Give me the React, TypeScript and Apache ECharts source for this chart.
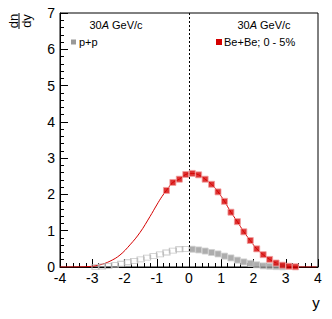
import React, { useEffect, useRef } from "react";
import * as echarts from "echarts";

// Be+Be 0-5% (measured points)
const beX = [-0.7, -0.5, -0.3, -0.1, 0.1, 0.3, 0.5, 0.7, 0.9, 1.1, 1.3, 1.5, 1.7, 1.9, 2.1, 2.3, 2.5, 2.7, 2.9, 3.1, 3.3];
const beY = [2.11, 2.33, 2.42, 2.55, 2.58, 2.54, 2.42, 2.28, 2.07, 1.81, 1.51, 1.25, 0.97, 0.73, 0.5, 0.34, 0.21, 0.11, 0.05, 0.02, 0.005];

// Be+Be fitted curve (left extension + tail)
const curveLeftX = [-4, -3.5, -3.07, -2.76, -2.45, -2.14, -1.83, -1.52, -1.21, -1.0, -0.84];
const curveLeftY = [0, 0.003, 0.015, 0.06, 0.16, 0.33, 0.61, 0.95, 1.39, 1.71, 1.94];
const curveTailX = [3.6, 3.95];
const curveTailY = [0.0, 0.0];

// p+p measured
const ppX = [0.1, 0.3, 0.5, 0.7, 0.9, 1.1, 1.3, 1.5, 1.7, 1.9, 2.1, 2.3, 2.5, 2.7, 2.9];
const ppY = [0.49, 0.47, 0.44, 0.4, 0.36, 0.3, 0.25, 0.19, 0.14, 0.1, 0.06, 0.03, 0.02, 0.01, 0.005];

// p+p reflected
const ppRefX = [-0.1, -0.3, -0.5, -0.7, -0.9, -1.1, -1.3, -1.5, -1.7, -1.9, -2.1, -2.3, -2.5, -2.7, -2.9];
const ppRefY = [0.5, 0.49, 0.45, 0.4, 0.35, 0.3, 0.26, 0.21, 0.17, 0.13, 0.09, 0.05, 0.03, 0.015, 0.005];

const energyLabel = ["30", "A", " GeV/c"];
const ppLabel = "p+p";
const beLabel = "Be+Be; 0 - 5%";

const FONT = "Liberation Sans, Arial, Helvetica, sans-serif";
const RED = "#d40000";

export default function App() {
  const ref = useRef<HTMLDivElement>(null);
  useEffect(() => {
    document.body.style.margin = "0";
    const chart = echarts.init(ref.current!, null, { renderer: "svg" });
    const zip = (xs: number[], ys: number[]) => xs.map((x, i) => [x, ys[i]]);
    const curve = [
      ...zip(curveLeftX, curveLeftY),
      ...zip(beX, beY),
      ...zip(curveTailX, curveTailY),
    ];
    const energyRich = {
      n: { fontFamily: FONT, fontSize: 11, fill: "#000" },
      i: { fontFamily: FONT, fontSize: 11, fontStyle: "italic", fill: "#000" },
    };
    const energyText = `{n|${energyLabel[0]}}{i|${energyLabel[1]}}{n|${energyLabel[2]}}`;
    chart.setOption({
      animation: false,
      grid: {
        left: 60,
        top: 13,
        width: 258,
        height: 254,
        show: true,
        borderColor: "#000",
        borderWidth: 1,
        backgroundColor: "transparent",
      },
      xAxis: {
        type: "value",
        min: -4,
        max: 4,
        interval: 1,
        axisLine: { show: true, onZero: false, lineStyle: { color: "#000", width: 1 } },
        axisTick: { show: true, inside: true, length: 8, lineStyle: { color: "#000" } },
        minorTick: { show: true, splitNumber: 5, length: 4, lineStyle: { color: "#000" } },
        splitLine: { show: false },
        axisLabel: { color: "#000", fontSize: 14, fontFamily: FONT, margin: 4 },
      },
      yAxis: {
        type: "value",
        min: 0,
        max: 7,
        interval: 1,
        axisLine: { show: true, onZero: false, lineStyle: { color: "#000", width: 1 } },
        axisTick: { show: true, inside: true, length: 8, lineStyle: { color: "#000" } },
        minorTick: { show: true, splitNumber: 5, length: 4, lineStyle: { color: "#000" } },
        splitLine: { show: false },
        axisLabel: { color: "#000", fontSize: 14, fontFamily: FONT, margin: 5 },
      },
      series: [
        {
          type: "line",
          data: curve,
          smooth: 0.4,
          showSymbol: false,
          symbol: "none",
          lineStyle: { color: RED, width: 1 },
          z: 2,
          markLine: {
            silent: true,
            symbol: "none",
            label: { show: false },
            lineStyle: { color: "#000", type: [2, 2], width: 1 },
            data: [{ xAxis: 0 }],
          },
        },
        {
          type: "scatter",
          data: zip(ppRefX, ppRefY),
          symbol: "rect",
          symbolSize: [7, 5],
          itemStyle: { color: "rgba(255,255,255,0)", borderColor: "#b8b8b8", borderWidth: 1 },
          z: 3,
        },
        {
          type: "scatter",
          data: zip(ppX, ppY),
          symbol: "rect",
          symbolSize: 6,
          itemStyle: { color: "#999999", borderColor: "#cfcfcf", borderWidth: 1 },
          z: 4,
        },
        {
          type: "scatter",
          data: zip(beX, beY),
          symbol: "rect",
          symbolSize: 6,
          itemStyle: { color: RED, borderColor: "#f0a0a0", borderWidth: 1 },
          z: 5,
        },
      ],
      graphic: [
        {
          type: "group",
          x: 19,
          y: 21,
          rotation: Math.PI / 2,
          children: [
            {
              type: "text",
              x: 0,
              y: -6,
              style: { text: "dn", fontFamily: FONT, fontSize: 13, fill: "#000", align: "center", verticalAlign: "middle" },
            },
            {
              type: "line",
              shape: { x1: -8, y1: 0, x2: 8, y2: 0 },
              style: { stroke: "#000", lineWidth: 1 },
            },
            {
              type: "text",
              x: 0,
              y: 7,
              style: { text: "dy", fontFamily: FONT, fontSize: 13, fill: "#000", align: "center", verticalAlign: "middle" },
            },
          ],
        },
        {
          type: "text",
          x: 316,
          y: 302,
          style: { text: "y", fontFamily: FONT, fontSize: 15, fill: "#000", align: "center", verticalAlign: "middle" },
        },
        {
          type: "text",
          x: 116,
          y: 25,
          style: { text: energyText, rich: energyRich, align: "center", verticalAlign: "middle" },
        },
        {
          type: "text",
          x: 264,
          y: 25,
          style: { text: energyText, rich: energyRich, align: "center", verticalAlign: "middle" },
        },
        {
          type: "rect",
          shape: { x: 71, y: 39.5, width: 5, height: 5 },
          style: { fill: "#999999" },
        },
        {
          type: "text",
          x: 79,
          y: 42,
          style: { text: ppLabel, fontFamily: FONT, fontSize: 11, fill: "#000", align: "left", verticalAlign: "middle" },
        },
        {
          type: "rect",
          shape: { x: 216, y: 39, width: 6, height: 6 },
          style: { fill: RED },
        },
        {
          type: "text",
          x: 224,
          y: 42,
          style: { text: beLabel, fontFamily: FONT, fontSize: 11, fill: "#000", align: "left", verticalAlign: "middle" },
        },
      ],
    });
    return () => chart.dispose();
  }, []);
  return <div ref={ref} style={{ width: 332, height: 319 }} />;
}
